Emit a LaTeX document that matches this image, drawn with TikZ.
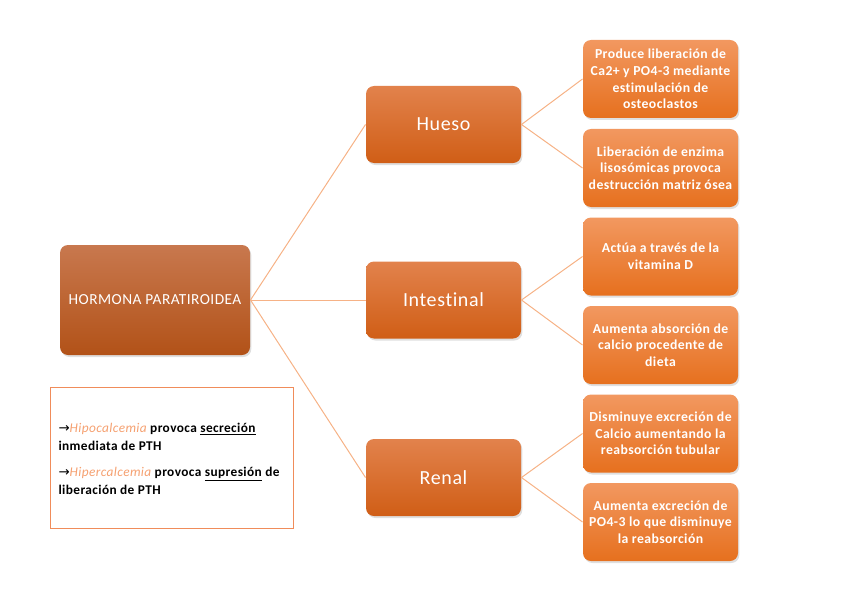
\documentclass[tikz,border=0pt]{standalone}
\usepackage{fontspec}
\setmainfont{Carlito}[LetterSpace=3,Ligatures={NoCommon}]
\newfontfamily\symfont{DejaVu Sans}
\usetikzlibrary{shadows}
\definecolor{rootTop}{RGB}{200,120,78}
\definecolor{rootBot}{RGB}{178,82,24}
\definecolor{midTop}{RGB}{226,130,76}
\definecolor{midBot}{RGB}{208,94,22}
\definecolor{leafTop}{RGB}{242,152,96}
\definecolor{leafBot}{RGB}{230,112,30}
\definecolor{linkOrange}{RGB}{246,178,134}
\definecolor{hiOrange}{RGB}{245,160,112}
\definecolor{legendLine}{RGB}{240,140,90}

\tikzset{every picture/.style={line width=0.75pt}}
\tikzset{
  rootbox/.style={rounded corners=6pt, top color=rootTop, bottom color=rootBot, text=white,
    minimum width=142.5pt, minimum height=82.5pt, align=center, font=\fontsize{11.5}{13}\selectfont,
    drop shadow={opacity=0.25, shadow xshift=1pt, shadow yshift=-1.5pt}},
  midbox/.style={rounded corners=6pt, top color=midTop, bottom color=midBot, text=white,
    minimum width=116.25pt, minimum height=57.75pt, align=center, font=\fontsize{15}{17}\selectfont,
    drop shadow={opacity=0.25, shadow xshift=1pt, shadow yshift=-1.5pt}},
  leafbox/.style={rounded corners=6pt, top color=leafTop, bottom color=leafBot, text=white,
    minimum width=116.25pt, minimum height=58.5pt, align=center,
    font=\bfseries\fontsize{10.3}{12.5}\selectfont,
    drop shadow={opacity=0.25, shadow xshift=1pt, shadow yshift=-1.5pt}},
  link/.style={draw=linkOrange, line width=0.75pt}
}
\newcommand{\rarr}{{\symfont\mdseries\fontsize{10}{13}\selectfont →}}

\begin{document}
\begin{tikzpicture}[x=0.75pt,y=0.75pt,yscale=-1,xscale=1]
\path (0,0) rectangle (848,599); %set diagram size

% Root Node
\node [rootbox] (pth) at (155,300) {HORMONA PARATIROIDEA};

% Middle Nodes
\node [midbox] (hueso) at (443.5,124.5) {Hueso};
\node [midbox] (intestinal) at (443.5,300) {Intestinal};
\node [midbox] (renal) at (443.5,477.5) {Renal};

% Leaf Nodes
\node [leafbox] (h1) at (660.5,79) {Produce liberación de\\Ca2+ y PO4-3 mediante\\estimulación de\\osteoclastos};
\node [leafbox] (h2) at (660.5,168) {Liberación de enzima\\lisosómicas provoca\\destrucción matriz ósea};
\node [leafbox] (i1) at (660.5,256.5) {Actúa a través de la\\vitamina D};
\node [leafbox] (i2) at (660.5,345) {Aumenta absorción de\\calcio procedente de\\dieta};
\node [leafbox] (r1) at (660.5,433.5) {Disminuye excreción de\\Calcio aumentando la\\reabsorción tubular};
\node [leafbox] (r2) at (660.5,522) {Aumenta excreción de\\PO4-3 lo que disminuye\\la reabsorción};

%Straight Lines
\draw [link] (pth.east) -- (hueso.west);
\draw [link] (pth.east) -- (intestinal.west);
\draw [link] (pth.east) -- (renal.west);
\draw [link] (hueso.east) -- (h1.west);
\draw [link] (hueso.east) -- (h2.west);
\draw [link] (intestinal.east) -- (i1.west);
\draw [link] (intestinal.east) -- (i2.west);
\draw [link] (renal.east) -- (r1.west);
\draw [link] (renal.east) -- (r2.west);

%Shape: Rectangle
\draw [draw=legendLine] (50,387) rectangle (293,528);
% Text Node
\node [anchor=west, inner sep=0.75pt, align=left,
  font=\bfseries\fontsize{10}{13.5}\selectfont] (legend) at (57,458.5)
  {\rarr\textcolor{hiOrange}{\mdseries\itshape Hipocalcemia} provoca \underline{secreción}\\inmediata de PTH\\[6pt]
   \rarr\textcolor{hiOrange}{\mdseries\itshape Hipercalcemia} provoca \underline{supresión} de\\liberación de PTH};

\end{tikzpicture}
\end{document}
